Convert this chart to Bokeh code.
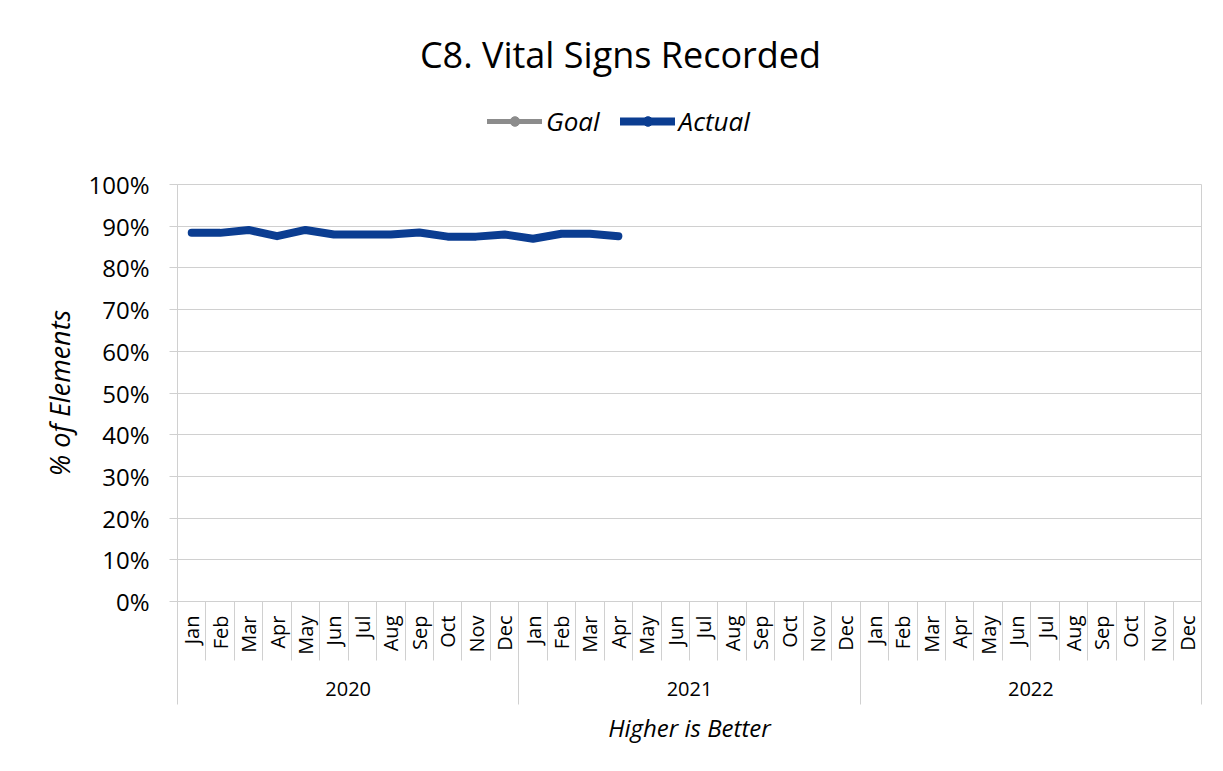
import math
from bokeh.plotting import figure
from bokeh.layouts import column
from bokeh.models import (Range1d, LinearAxis, FixedTicker, Legend, LegendItem,
                          PrintfTickFormatter, Grid, Label)
from bokeh.embed import file_html
from bokeh.resources import INLINE

# ---------------- data ----------------
years = ["2020", "2021", "2022"]
months = ["Jan", "Feb", "Mar", "Apr", "May", "Jun",
          "Jul", "Aug", "Sep", "Oct", "Nov", "Dec"]
actual = [88.4, 88.4, 89.1, 87.6, 89.1, 88.0, 88.0, 88.0,
          88.5, 87.5, 87.5, 88.0, 87.0, 88.2, 88.2, 87.6]
goal = []
y_ticks = [0, 10, 20, 30, 40, 50, 60, 70, 80, 90, 100]

title_text = "C8. Vital Signs Recorded"
y_title = "% of Elements"
x_title = "Higher is Better"
series_names = ["Goal", "Actual"]

FONT = "Open Sans"
GRID = "#d0d0d0"
BLUE = "#0B3D91"
GREY = "#8c8c8c"
NAN = float("nan")

n_cat = len(years) * len(months)
centers = [i + 0.5 for i in range(n_cat)]
month_labels = {c: months[i % len(months)] for i, c in enumerate(centers)}
year_centers = [len(months) * (k + 0.5) for k in range(len(years))]
year_labels = {c: years[k] for k, c in enumerate(year_centers)}
month_bounds = list(range(n_cat + 1))
year_bounds = [len(months) * k for k in range(len(years) + 1)]

x_actual = centers[:len(actual)]
x_goal = centers[:len(goal)]

W = 1220
TOP_H = 150
MAIN_H = 618
LEFT = 177   # frame left edge; header frame is aligned to it by the column

# ---------------- header (title + legend) ----------------
top = figure(width=W, height=TOP_H, output_backend="svg", toolbar_location=None,
             x_range=Range1d(0, 1), y_range=Range1d(0, 1),
             min_border=0, min_border_left=0, min_border_right=0,
             min_border_top=0, min_border_bottom=0,
             x_axis_type=None, y_axis_type=None, outline_line_color=None,
             background_fill_color="white", border_fill_color="white")
top.xgrid.visible = False
top.ygrid.visible = False

title = Label(x=620 - LEFT, y=96, x_units="screen", y_units="screen",
              text=title_text, text_align="center", text_baseline="middle",
              text_font=FONT, text_font_size="36px", text_color="#000000")
top.add_layout(title)

# legend proxies (they draw nothing in the header, only their legend glyphs)
lg_goal_line = top.line([NAN], [NAN], line_color=GREY, line_width=5, line_cap="round")
lg_goal_pt = top.scatter([NAN], [NAN], marker="circle", size=5, fill_color=GREY, line_color=GREY)
lg_act_line = top.line([NAN], [NAN], line_color=BLUE, line_width=8, line_cap="round")
lg_act_pt = top.scatter([NAN], [NAN], marker="circle", size=5, fill_color=BLUE, line_color=BLUE)

legend = Legend(items=[LegendItem(label=series_names[0], renderers=[lg_goal_line, lg_goal_pt]),
                       LegendItem(label=series_names[1], renderers=[lg_act_line, lg_act_pt])],
                orientation="horizontal", location=(487 - LEFT, 11),
                label_text_font=FONT, label_text_font_size="26px",
                label_text_font_style="italic", label_text_color="#000000",
                glyph_width=55, glyph_height=24, label_standoff=4, spacing=20,
                border_line_color=None, background_fill_alpha=0,
                padding=0, margin=0)
top.add_layout(legend, "center")

# ---------------- main chart ----------------
p = figure(width=W, height=MAIN_H, output_backend="svg", toolbar_location=None,
           x_range=Range1d(0, n_cat), y_range=Range1d(0, 100),
           min_border_left=LEFT, min_border_right=19,
           min_border_top=34, min_border_bottom=167,
           x_axis_type=None, y_axis_type=None,
           background_fill_color="white", border_fill_color="white",
           outline_line_color=GRID, outline_line_width=1)

# y axis
yax = LinearAxis(ticker=FixedTicker(ticks=y_ticks),
                 formatter=PrintfTickFormatter(format="%d%%"))
yax.axis_line_color = GRID
yax.major_tick_line_color = GRID
yax.major_tick_out = 8
yax.major_tick_in = 0
yax.minor_tick_line_color = None
yax.major_label_standoff = 20
yax.major_label_text_font = FONT
yax.major_label_text_font_size = "24px"
yax.major_label_text_color = "#000000"
yax.axis_label = y_title
yax.axis_label_text_font = FONT
yax.axis_label_text_font_size = "27px"
yax.axis_label_text_font_style = "italic"
yax.axis_label_text_color = "#000000"
yax.axis_label_standoff = 7
p.add_layout(yax, "left")

# month axis (closest to plot)
mon_ax = LinearAxis(ticker=FixedTicker(ticks=centers, minor_ticks=month_bounds))
mon_ax.major_label_overrides = month_labels
mon_ax.major_label_orientation = math.pi / 2
mon_ax.axis_line_color = GRID
mon_ax.major_tick_line_color = None
mon_ax.major_tick_out = 0
mon_ax.major_tick_in = 0
mon_ax.minor_tick_line_color = GRID
mon_ax.minor_tick_out = 59
mon_ax.minor_tick_in = 0
mon_ax.major_label_standoff = -45
mon_ax.major_label_text_font = FONT
mon_ax.major_label_text_font_size = "20px"
mon_ax.major_label_text_color = "#000000"
p.add_layout(mon_ax, "below")

# year axis
yr_ax = LinearAxis(ticker=FixedTicker(ticks=year_centers, minor_ticks=year_bounds))
yr_ax.major_label_overrides = year_labels
yr_ax.axis_line_color = None
yr_ax.major_tick_line_color = None
yr_ax.major_tick_out = 0
yr_ax.major_tick_in = 0
yr_ax.minor_tick_line_color = GRID
yr_ax.minor_tick_out = 47
yr_ax.minor_tick_in = 0
yr_ax.major_label_standoff = -23
yr_ax.major_label_text_font = FONT
yr_ax.major_label_text_font_size = "20px"
yr_ax.major_label_text_color = "#000000"
yr_ax.axis_label = x_title
yr_ax.axis_label_text_font = FONT
yr_ax.axis_label_text_font_size = "24px"
yr_ax.axis_label_text_font_style = "italic"
yr_ax.axis_label_text_color = "#000000"
yr_ax.axis_label_standoff = 12
p.add_layout(yr_ax, "below")

# grid
p.add_layout(Grid(dimension=1, ticker=FixedTicker(ticks=y_ticks), grid_line_color=GRID))

# series
p.line(x_goal, goal, line_color=GREY, line_width=5, line_cap="round")
p.line(x_actual, actual, line_color=BLUE, line_width=8,
       line_cap="round", line_join="round")

layout = column(top, p, spacing=0)
open("out.html", "w").write(file_html(layout, INLINE))
